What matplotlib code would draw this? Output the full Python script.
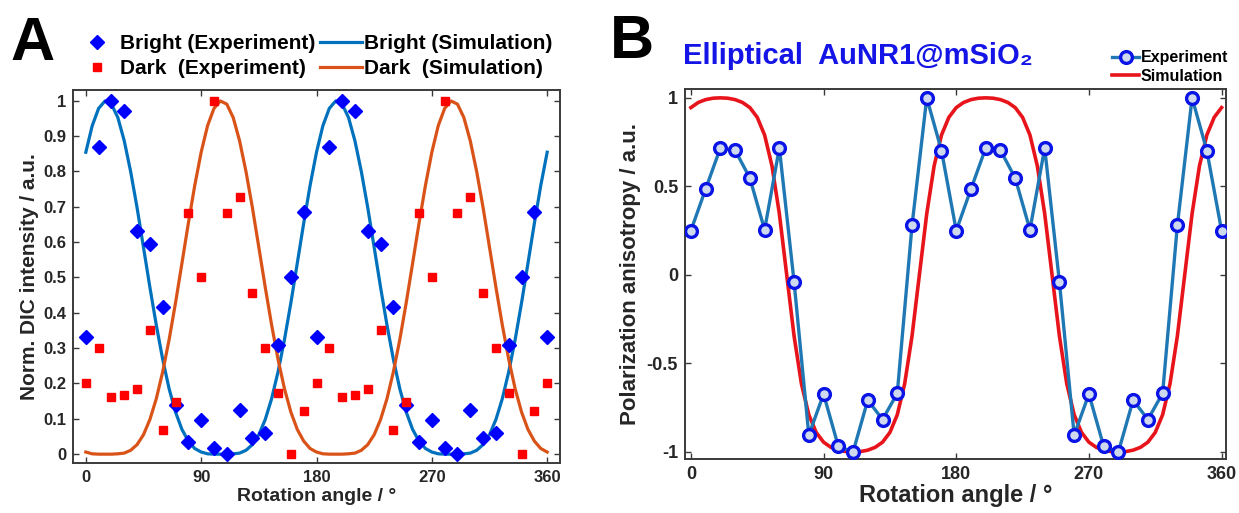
import matplotlib
matplotlib.use("Agg")
import matplotlib.pyplot as plt
import numpy as np
from matplotlib.ticker import FormatStrFormatter

plt.rcParams["font.family"] = ["Liberation Sans", "DejaVu Sans"]
plt.rcParams["font.weight"] = "bold"
plt.rcParams["axes.unicode_minus"] = False

# ---- data ---------------------------------------------------------------
angle_exp = np.arange(0, 361, 10)
angle_sim = np.arange(0, 361, 5)

# panel A: normalised DIC intensity
bright_exp = [0.33, 0.87, 1.00, 0.97, 0.63, 0.595, 0.415, 0.14, 0.035, 0.097,
              0.017, 0.00, 0.125, 0.045, 0.06, 0.31, 0.50, 0.685,
              0.33, 0.87, 1.00, 0.97, 0.63, 0.595, 0.415, 0.14, 0.035, 0.097,
              0.017, 0.00, 0.125, 0.045, 0.06, 0.31, 0.50, 0.685, 0.33]
dark_exp = [0.20, 0.30, 0.163, 0.167, 0.183, 0.352, 0.068, 0.147, 0.683, 0.50,
            1.00, 0.683, 0.728, 0.455, 0.30, 0.174, 0.00, 0.122,
            0.20, 0.30, 0.163, 0.167, 0.183, 0.352, 0.068, 0.147, 0.683, 0.50,
            1.00, 0.683, 0.728, 0.455, 0.30, 0.174, 0.00, 0.122, 0.20]

bright_sim = [0.854, 0.929, 0.978, 0.999, 0.990, 0.952, 0.886, 0.799, 0.697,
              0.585, 0.472, 0.365, 0.268, 0.185, 0.119, 0.070, 0.037, 0.016,
              0.006, 0.001, 0.000, 0.000, 0.000, 0.001, 0.003, 0.011, 0.027,
              0.055, 0.098, 0.157, 0.233, 0.324, 0.428, 0.540, 0.653, 0.760,
              0.854, 0.929, 0.978, 0.999, 0.990, 0.952, 0.886, 0.799, 0.697,
              0.585, 0.472, 0.365, 0.268, 0.185, 0.119, 0.070, 0.037, 0.016,
              0.006, 0.001, 0.000, 0.000, 0.000, 0.001, 0.003, 0.011, 0.027,
              0.055, 0.098, 0.157, 0.233, 0.324, 0.428, 0.540, 0.653, 0.760,
              0.854]
dark_sim = [0.006, 0.001, 0.000, 0.000, 0.000, 0.001, 0.003, 0.011, 0.027,
            0.055, 0.098, 0.157, 0.233, 0.324, 0.428, 0.540, 0.653, 0.760,
            0.854, 0.929, 0.978, 0.999, 0.990, 0.952, 0.886, 0.799, 0.697,
            0.585, 0.472, 0.365, 0.268, 0.185, 0.119, 0.070, 0.037, 0.016,
            0.006, 0.001, 0.000, 0.000, 0.000, 0.001, 0.003, 0.011, 0.027,
            0.055, 0.098, 0.157, 0.233, 0.324, 0.428, 0.540, 0.653, 0.760,
            0.854, 0.929, 0.978, 0.999, 0.990, 0.952, 0.886, 0.799, 0.697,
            0.585, 0.472, 0.365, 0.268, 0.185, 0.119, 0.070, 0.037, 0.016,
            0.006]

# panel B: polarization anisotropy
aniso_exp = [0.25, 0.485, 0.717, 0.704, 0.547, 0.255, 0.717, -0.04, -0.905,
             -0.673, -0.968, -1.00, -0.707, -0.817, -0.669, 0.279, 1.00, 0.702,
             0.25, 0.485, 0.717, 0.704, 0.547, 0.255, 0.717, -0.04, -0.905,
             -0.673, -0.968, -1.00, -0.707, -0.817, -0.669, 0.279, 1.00, 0.702,
             0.25]
aniso_sim = [0.945, 0.974, 0.990, 0.998, 1.000, 0.998, 0.990, 0.974, 0.945,
             0.890, 0.790, 0.616, 0.346, 0.000, -0.346, -0.616, -0.790, -0.890,
             -0.945, -0.974, -0.990, -0.998, -1.000, -0.998, -0.990, -0.974,
             -0.945, -0.890, -0.790, -0.616, -0.346, 0.000, 0.346, 0.616, 0.790,
             0.890, 0.945, 0.974, 0.990, 0.998, 1.000, 0.998, 0.990, 0.974,
             0.945, 0.890, 0.790, 0.616, 0.346, 0.000, -0.346, -0.616, -0.790,
             -0.890, -0.945, -0.974, -0.990, -0.998, -1.000, -0.998, -0.990,
             -0.974, -0.945, -0.890, -0.790, -0.616, -0.346, 0.000, 0.346,
             0.616, 0.790, 0.890, 0.945]

xticks = [0, 90, 180, 270, 360]

AX_COLOR = "#3a3a3a"
TXT_COLOR = "#262626"
W, H = 1239, 513


def style_axes(ax, fs):
    for s in ax.spines.values():
        s.set_color(AX_COLOR)
        s.set_linewidth(1.4)
    ax.tick_params(direction="in", length=4, width=1.0, colors=AX_COLOR,
                   top=True, right=True, labelsize=fs, pad=5,
                   labelcolor=TXT_COLOR)
    for lab in ax.get_xticklabels() + ax.get_yticklabels():
        lab.set_fontweight("bold")


fig = plt.figure(figsize=(W / 100, H / 100), dpi=100)

# ---- panel A ------------------------------------------------------------
axA = fig.add_axes([73 / W, 1 - 463 / H, (560 - 73) / W, (463 - 90) / H])
h_bsim, = axA.plot(angle_sim, bright_sim, color="#0072BD", lw=2.3, zorder=2)
h_dsim, = axA.plot(angle_sim, dark_sim, color="#D95319", lw=2.3, zorder=2)
h_bexp, = axA.plot(angle_exp, bright_exp, ls="none", marker="D", ms=7.2,
                   color="#0000FF", mec="#0000FF", zorder=3)
h_dexp, = axA.plot(angle_exp, dark_exp, ls="none", marker="s", ms=5.5,
                   color="#FF0000", mec="#FF0000", zorder=3)
axA.set_xlim(-10, 370)
axA.set_ylim(-0.025, 1.03)
axA.set_xticks(xticks)
axA.set_yticks(np.arange(0, 1.01, 0.1))
axA.yaxis.set_major_formatter(FormatStrFormatter("%g"))
style_axes(axA, 12)
axA.set_xlabel("Rotation angle / °", fontsize=14, fontweight="bold",
               color=TXT_COLOR, labelpad=2)
axA.set_ylabel("Norm. DIC intensity / a.u.", fontsize=15, fontweight="bold",
               color=TXT_COLOR, labelpad=3)

fig.legend(handles=[h_bexp, h_dexp, h_bsim, h_dsim],
           labels=["Bright (Experiment)", "Dark  (Experiment)",
                   "Bright (Simulation)", "Dark  (Simulation)"],
           ncol=2, loc="center left", bbox_to_anchor=(76 / W, 1 - 56 / H),
           frameon=False, fontsize=15, handlelength=2.0, handletextpad=0.1,
           columnspacing=0.25, labelspacing=0.3, borderpad=0, borderaxespad=0)

fig.text(10 / W, 1 - 44 / H, "A", fontsize=44, fontweight="bold",
         va="center", ha="left", color="black")

# ---- panel B ------------------------------------------------------------
axB = fig.add_axes([685 / W, 1 - 459 / H, (1226 - 685) / W, (459 - 89) / H])
h_sim, = axB.plot(angle_sim, aniso_sim, color="#E8141B", lw=2.6, zorder=2)
h_exp, = axB.plot(angle_exp, aniso_exp, color="#1F78B4", lw=2.4,
                  marker="o", ms=8.5, mec="#0A14E6", mew=2.4,
                  mfc="#cfd9ee", zorder=3)
axB.set_xlim(-4, 363)
axB.set_ylim(-1.04, 1.05)
axB.set_xticks(xticks)
axB.set_yticks([-1, -0.5, 0, 0.5, 1])
axB.yaxis.set_major_formatter(FormatStrFormatter("%g"))
style_axes(axB, 13)
axB.set_xlabel("Rotation angle / °", fontsize=17, fontweight="bold",
               color=TXT_COLOR, labelpad=1)
axB.set_ylabel("Polarization anisotropy / a.u.", fontsize=16,
               fontweight="bold", color=TXT_COLOR, labelpad=4)

fig.legend(handles=[h_exp, h_sim], labels=["Experiment", "Simulation"],
           loc="center left", bbox_to_anchor=(1112 / W, 1 - 67 / H),
           frameon=False, fontsize=11.5, handlelength=1.7, handletextpad=0.1,
           labelspacing=0.2, borderpad=0, borderaxespad=0)

fig.text(683 / W, 1 - 56 / H, "Elliptical  AuNR1@mSiO\u2082", fontsize=21,
         fontweight="bold", color="#1414E6", va="center", ha="left")
fig.text(610 / W, 1 - 42 / H, "B", fontsize=44, fontweight="bold",
         va="center", ha="left", color="black")

fig.savefig("out.png", dpi=100)
